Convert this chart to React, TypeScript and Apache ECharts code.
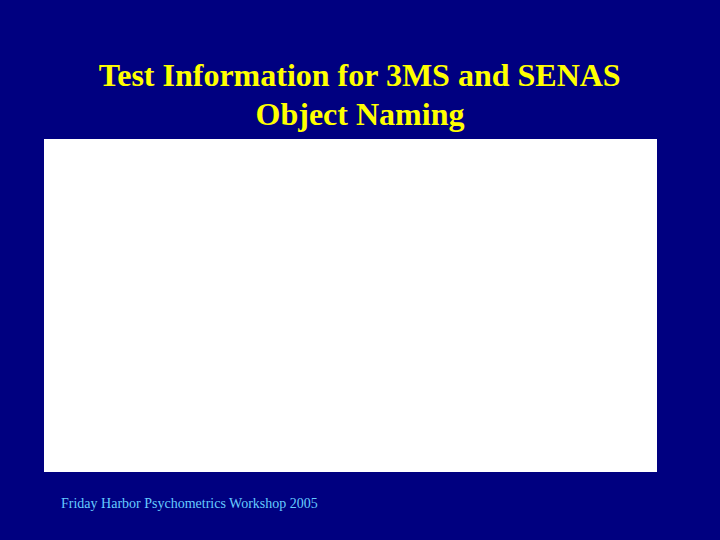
import React, { useEffect, useRef } from 'react';
import * as echarts from 'echarts';

// the slide's plot area is blank in the source: no categories, no values
const categories: string[] = [];
const infoValues: number[] = [];

const titleLines = ['Test Information for 3MS and SENAS', 'Object Naming'];
const footer = 'Friday Harbor Psychometrics Workshop 2005';

export default function App() {
  const chartRef = useRef<HTMLDivElement>(null);

  useEffect(() => {
    if (!chartRef.current) return;
    const chart = echarts.init(chartRef.current, null, { renderer: 'svg' });

    const titleStyle = {
      fontFamily: 'Liberation Serif',
      fontWeight: 'bold' as const,
      fontSize: 32,
      fill: '#ffff00',
    };

    const option: echarts.EChartsOption = {
      animation: false,
      backgroundColor: '#000080',
      grid: {
        left: 44,
        top: 139,
        width: 613,
        height: 333,
        show: true,
        backgroundColor: '#ffffff',
        borderWidth: 0,
      },
      xAxis: { type: 'category', data: categories, show: false },
      yAxis: { type: 'value', show: false },
      series: [{ type: 'line', data: infoValues, silent: true }],
      graphic: [
        ...titleLines.map((line, i) => ({
          type: 'text' as const,
          left: 'center',
          top: 59 + i * 39,
          style: { text: line, ...titleStyle },
        })),
        {
          type: 'text',
          left: 61,
          top: 496,
          style: {
            text: footer,
            fontFamily: 'Liberation Serif',
            fontSize: 14,
            fill: '#66ccff',
          },
        },
      ],
    };

    chart.setOption(option);
    return () => {
      chart.dispose();
    };
  }, []);

  return (
    <div
      ref={chartRef}
      style={{ position: 'fixed', left: 0, top: 0, width: 720, height: 540 }}
    />
  );
}
